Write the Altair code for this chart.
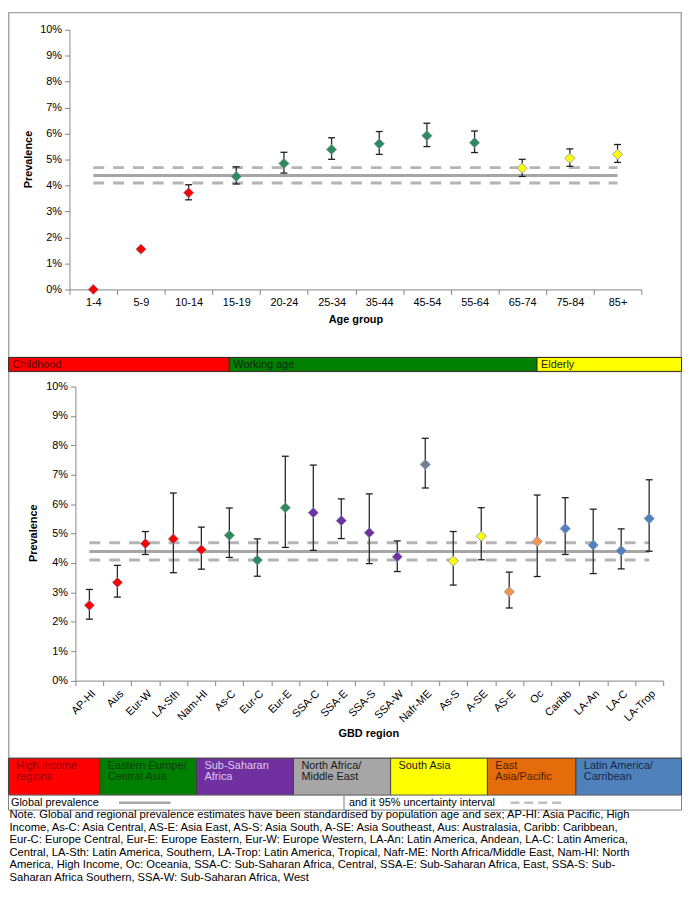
import altair as alt
import pandas as pd

# ---------------- data ----------------
ages = ["1-4", "5-9", "10-14", "15-19", "20-24", "25-34", "35-44", "45-54",
        "55-64", "65-74", "75-84", "85+"]
age_prev = [0.00, 1.55, 3.72, 4.35, 4.85, 5.39, 5.61, 5.92, 5.65, 4.67, 5.05, 5.20]
age_lo = [0.00, 1.50, 3.45, 4.06, 4.48, 5.01, 5.20, 5.50, 5.27, 4.35, 4.74, 4.89]
age_hi = [0.00, 1.60, 4.03, 4.72, 5.28, 5.84, 6.08, 6.40, 6.10, 5.01, 5.41, 5.58]
age_group = ["Childhood"] * 3 + ["Working age"] * 6 + ["Elderly"] * 3

regions = ["AP-HI", "Aus", "Eur-W", "LA-Sth", "Nam-HI", "As-C", "Eur-C", "Eur-E",
           "SSA-C", "SSA-E", "SSA-S", "SSA-W", "Nafr-ME", "As-S", "A-SE", "AS-E",
           "Oc", "Caribb", "LA-An", "LA-C", "LA-Trop"]
reg_prev = [2.56, 3.34, 4.66, 4.82, 4.45, 4.94, 4.10, 5.88, 5.71, 5.44, 5.03, 4.21,
            7.35, 4.07, 4.91, 3.02, 4.73, 5.17, 4.61, 4.42, 5.51]
reg_lo = [2.09, 2.84, 4.29, 3.67, 3.79, 4.19, 3.55, 4.53, 4.43, 4.83, 3.98, 3.71,
          6.55, 3.25, 4.11, 2.47, 3.54, 4.29, 3.64, 3.80, 4.40]
reg_hi = [3.10, 3.92, 5.07, 6.38, 5.22, 5.87, 4.82, 7.63, 7.33, 6.18, 6.35, 4.75,
          8.24, 5.07, 5.88, 3.69, 6.31, 6.22, 5.83, 5.16, 6.83]
region_groups = ["High income regions", "Eastern Europe/Central Asia", "Sub-Saharan Africa",
                 "North Africa/Middle East", "South Asia", "East Asia/Pacific",
                 "Latin America/Carribean"]
reg_group = ([region_groups[0]] * 5 + [region_groups[1]] * 3 + [region_groups[2]] * 4 +
             [region_groups[3]] * 1 + [region_groups[4]] * 2 + [region_groups[5]] * 2 +
             [region_groups[6]] * 4)

global_prev = 4.39
global_lo = 4.10
global_hi = 4.69

age_band_labels = ["Childhood", "Working age", "Elderly"]
region_band_lines = [["High income", "regions"], ["Eastern Europe/", "Central Asia"],
                     ["Sub-Saharan", "Africa"], ["North Africa/", "Middle East"],
                     ["South Asia"], ["East", "Asia/Pacific"], ["Latin America/", "Carribean"]]
legend_texts = ["Global prevalence", "and it 95% uncertainty interval"]
note_lines = [
    "Note. Global and regional prevalence estimates have been standardised by population  age and sex; AP-HI: Asia Pacific, High",
    "Income, As-C: Asia Central, AS-E: Asia East, AS-S: Asia South, A-SE: Asia Southeast, Aus: Australasia, Caribb: Caribbean,",
    "Eur-C: Europe Central, Eur-E: Europe Eastern, Eur-W: Europe Western, LA-An: Latin America, Andean, LA-C: Latin America,",
    "Central, LA-Sth: Latin America, Southern, LA-Trop: Latin America, Tropical, Nafr-ME: North Africa/Middle East, Nam-HI: North",
    "America, High Income, Oc: Oceania, SSA-C: Sub-Saharan Africa, Central, SSA-E: Sub-Saharan Africa, East, SSA-S: Sub-",
    "Saharan Africa Southern, SSA-W: Sub-Saharan Africa, West",
]

# ---------------- styles / layout ----------------
W, H = 680, 880
FONT = "Liberation Sans"
AX = "#868686"
age_colors = ["#FF0000", "#2E8B57", "#FFFF00"]
region_colors = ["#FF0000", "#2E8B57", "#7030A0", "#6E7F91", "#FFFF00", "#F79646", "#4F81BD"]
age_band_fill = ["#FF0000", "#008000", "#FFFF00"]
age_band_text = ["#6B0000", "#0B2A0B", "#1A1A1A"]
region_band_fill = ["#FF0000", "#008000", "#7030A0", "#A6A6A6", "#FFFF00", "#E46C0A", "#4F81BD"]
region_band_text = ["#8B0000", "#103D10", "#DCCBEF", "#1A1A1A", "#1A1A1A", "#4A2000", "#13294B"]

# panel geometry (pixels inside the chart)
TOP_X = [62, 639]
TOP_Y = [280, 18]
BOT_X = [68, 661]
BOT_Y = [674.7, 378]
age_band_edges = [0.5, 223.3, 533.7, 679.5]
AGE_BAND_Y = [348.7, 362.7]
region_band_edges = [0.5, 92.7, 190.3, 288, 386, 483.7, 573, 679.5]
REG_BAND_Y = [753, 790.3]
LEG_Y = [790.3, 805.3]
NOTE_Y0, NOTE_DY = 810.5, 12.6


def yaxis(offset):
    return alt.Axis(orient="left", offset=offset, values=list(range(0, 11)),
                    labelExpr="datum.value + '%'", title=None, grid=False,
                    domainColor=AX, tickColor=AX, tickSize=5, labelPadding=3,
                    labelFont=FONT, labelFontSize=11, labelColor="#000")


def xaxis(offset, angle):
    return alt.Axis(orient="bottom", offset=offset, title=None, grid=False,
                    tickBand="extent", labelAngle=angle, domainColor=AX, tickColor=AX,
                    tickSize=5, labelPadding=2, labelFont=FONT, labelFontSize=11,
                    labelColor="#000")


def panel(df, cat, cats, xr, yr, colors, groups, xoff, angle):
    xs = alt.Scale(type="band", domain=cats, range=xr, paddingInner=0, paddingOuter=0)
    ys = alt.Scale(domain=[0, 10], range=yr, nice=False)
    xa = xaxis(xoff, angle)
    ya = yaxis(-xr[0])
    X = alt.X(f"{cat}:N", scale=xs, axis=xa, sort=cats)

    gl = pd.DataFrame({cat: cats * 2,
                       "val": [global_lo] * len(cats) + [global_hi] * len(cats),
                       "k": ["lo"] * len(cats) + ["hi"] * len(cats)})
    gm = pd.DataFrame({cat: cats, "val": [global_prev] * len(cats)})

    dashed = alt.Chart(gl).mark_line(color="#B4B4B4", strokeWidth=3, strokeDash=[11, 9]).encode(
        x=X, y=alt.Y("val:Q", scale=ys, axis=ya), detail="k:N")
    solid = alt.Chart(gm).mark_line(color="#A6A6A6", strokeWidth=3).encode(
        x=X, y=alt.Y("val:Q", scale=ys, axis=ya))
    stem = alt.Chart(df).mark_rule(color="#2A2A2A", strokeWidth=1.3).encode(
        x=X, y=alt.Y("lo:Q", scale=ys, axis=ya), y2="hi:Q")
    cap_lo = alt.Chart(df).mark_tick(color="#1F1F1F", size=7, thickness=1.3, opacity=1).encode(
        x=X, y=alt.Y("lo:Q", scale=ys, axis=ya))
    cap_hi = alt.Chart(df).mark_tick(color="#1F1F1F", size=7, thickness=1.3, opacity=1).encode(
        x=X, y=alt.Y("hi:Q", scale=ys, axis=ya))
    pts = alt.Chart(df).mark_point(shape="diamond", filled=True, size=105, opacity=1,
                                   stroke="#7F93B5", strokeWidth=0.8).encode(
        x=X, y=alt.Y("prev:Q", scale=ys, axis=ya),
        color=alt.Color("grp:N", scale=alt.Scale(domain=groups, range=colors), legend=None))
    return alt.layer(dashed, solid, stem, cap_lo, cap_hi, pts)


top_df = pd.DataFrame({"age": ages, "prev": age_prev, "lo": age_lo, "hi": age_hi, "grp": age_group})
bot_df = pd.DataFrame({"region": regions, "prev": reg_prev, "lo": reg_lo, "hi": reg_hi, "grp": reg_group})

top = panel(top_df, "age", ages, TOP_X, TOP_Y, age_colors, age_band_labels, TOP_Y[0] - H, 0)
bot = panel(bot_df, "region", regions, BOT_X, BOT_Y, region_colors, region_groups, BOT_Y[0] - H, -45)

PX = dict(scale=None, axis=None)

# panel borders
borders = pd.DataFrame({"x0": [0.75, 0.75], "x1": [679.25, 679.25],
                        "y0": [0.75, AGE_BAND_Y[1]], "y1": [AGE_BAND_Y[0], REG_BAND_Y[0]]})
border_layer = alt.Chart(borders).mark_rect(fillOpacity=0, stroke="#A6A6A6", strokeWidth=1.5).encode(
    x=alt.X("x0:Q", **PX), x2="x1:Q", y=alt.Y("y0:Q", **PX), y2="y1:Q")

# age band strip
ab = pd.DataFrame({"x0": age_band_edges[:-1], "x1": age_band_edges[1:],
                   "y0": [AGE_BAND_Y[0]] * 3, "y1": [AGE_BAND_Y[1]] * 3,
                   "fill": age_band_fill, "label": age_band_labels, "tc": age_band_text})
ab["tx"] = ab["x0"] + 4
ab["ty"] = (AGE_BAND_Y[0] + AGE_BAND_Y[1]) / 2 + 0.5
ab_rect = alt.Chart(ab).mark_rect(stroke="#3A2A2A", strokeWidth=1).encode(
    x=alt.X("x0:Q", **PX), x2="x1:Q", y=alt.Y("y0:Q", **PX), y2="y1:Q",
    fill=alt.Fill("fill:N", scale=None))
ab_text = alt.Chart(ab).mark_text(align="left", baseline="middle", font=FONT, fontSize=11).encode(
    x=alt.X("tx:Q", **PX), y=alt.Y("ty:Q", **PX), text="label:N", color=alt.Color("tc:N", scale=None))

# region band strip
rb = pd.DataFrame({"x0": region_band_edges[:-1], "x1": region_band_edges[1:],
                   "y0": [REG_BAND_Y[0]] * 7, "y1": [REG_BAND_Y[1]] * 7,
                   "fill": region_band_fill})
rb_rect = alt.Chart(rb).mark_rect(stroke="#404040", strokeWidth=1).encode(
    x=alt.X("x0:Q", **PX), x2="x1:Q", y=alt.Y("y0:Q", **PX), y2="y1:Q",
    fill=alt.Fill("fill:N", scale=None))
rows = []
for i, lines in enumerate(region_band_lines):
    for j, t in enumerate(lines):
        rows.append({"tx": region_band_edges[i] + 8, "ty": REG_BAND_Y[0] + 7.5 + 11.7 * j,
                     "label": t, "tc": region_band_text[i]})
rt = pd.DataFrame(rows)
rb_text = alt.Chart(rt).mark_text(align="left", baseline="middle", font=FONT, fontSize=11).encode(
    x=alt.X("tx:Q", **PX), y=alt.Y("ty:Q", **PX), text="label:N", color=alt.Color("tc:N", scale=None))

# legend row
lg_box = alt.Chart(pd.DataFrame({"x0": [0.5], "x1": [679.5], "y0": [LEG_Y[0]], "y1": [LEG_Y[1]]})).mark_rect(
    fill="white", stroke="#7F7F7F", strokeWidth=1).encode(
    x=alt.X("x0:Q", **PX), x2="x1:Q", y=alt.Y("y0:Q", **PX), y2="y1:Q")
lg_div = alt.Chart(pd.DataFrame({"x": [339], "y0": [LEG_Y[0]], "y1": [LEG_Y[1]]})).mark_rule(
    color="#7F7F7F", strokeWidth=1).encode(x=alt.X("x:Q", **PX), y=alt.Y("y0:Q", **PX), y2="y1:Q")
ly = (LEG_Y[0] + LEG_Y[1]) / 2
lg_solid = alt.Chart(pd.DataFrame({"x0": [112], "x1": [164], "y": [ly]})).mark_rule(
    color="#A6A6A6", strokeWidth=2.5).encode(x=alt.X("x0:Q", **PX), x2="x1:Q", y=alt.Y("y:Q", **PX))
lg_dash = alt.Chart(pd.DataFrame({"x0": [507], "x1": [558], "y": [ly]})).mark_rule(
    color="#BFBFBF", strokeWidth=2.5, strokeDash=[9, 5]).encode(
    x=alt.X("x0:Q", **PX), x2="x1:Q", y=alt.Y("y:Q", **PX))
lg_text = alt.Chart(pd.DataFrame({"tx": [3, 344], "ty": [ly + 0.5, ly + 0.5], "label": legend_texts})).mark_text(
    align="left", baseline="middle", font=FONT, fontSize=11, color="#000").encode(
    x=alt.X("tx:Q", **PX), y=alt.Y("ty:Q", **PX), text="label:N")

# note
nt = pd.DataFrame({"tx": [1.5] * len(note_lines),
                   "ty": [NOTE_Y0 + NOTE_DY * i for i in range(len(note_lines))],
                   "label": note_lines})
note_text = alt.Chart(nt).mark_text(align="left", baseline="middle", font=FONT, fontSize=11.3,
                                    color="#000").encode(
    x=alt.X("tx:Q", **PX), y=alt.Y("ty:Q", **PX), text="label:N")

# axis titles
titles = pd.DataFrame({"tx": [351, 364], "ty": [310.7, 729], "label": ["Age group", "GBD region"]})
x_titles = alt.Chart(titles).mark_text(align="center", baseline="middle", font=FONT, fontSize=11,
                                       fontWeight="bold", color="#000").encode(
    x=alt.X("tx:Q", **PX), y=alt.Y("ty:Q", **PX), text="label:N")
ytitles = pd.DataFrame({"tx": [21, 26], "ty": [149, 526], "label": ["Prevalence", "Prevalence"]})
y_titles = alt.Chart(ytitles).mark_text(align="center", baseline="middle", font=FONT, fontSize=11,
                                        fontWeight="bold", color="#000", angle=270).encode(
    x=alt.X("tx:Q", **PX), y=alt.Y("ty:Q", **PX), text="label:N")

chart = alt.layer(
    border_layer, top, bot, ab_rect, ab_text, rb_rect, rb_text,
    lg_box, lg_div, lg_solid, lg_dash, lg_text, note_text, x_titles, y_titles
).resolve_scale(
    x="independent", y="independent", color="independent"
).properties(
    width=W, height=H, padding=0, autosize=alt.AutoSizeParams(type="none")
).configure_view(stroke=None)

chart.save("out.html", embed_options={"renderer": "svg", "actions": False})
